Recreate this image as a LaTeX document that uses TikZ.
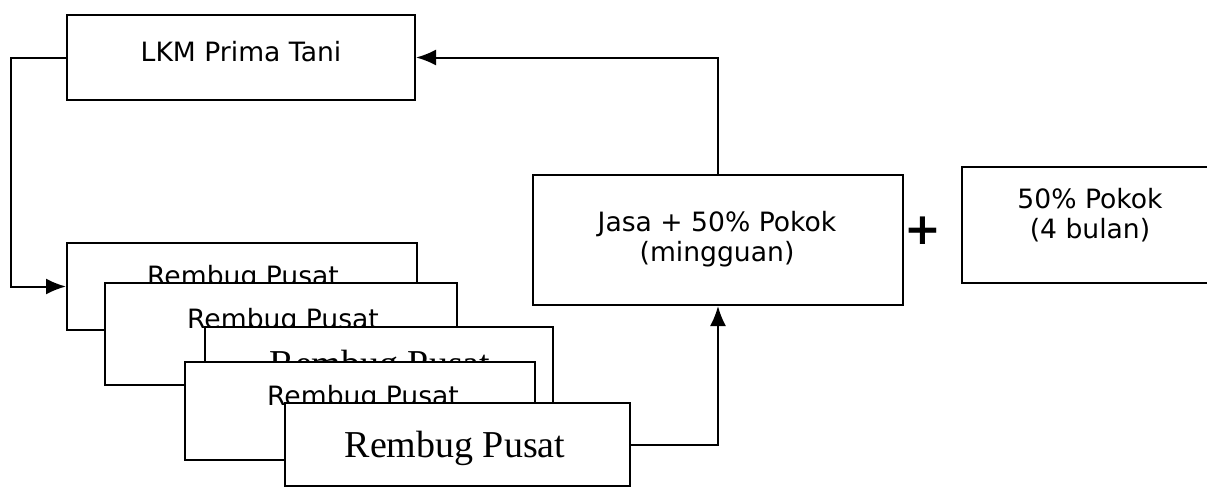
\documentclass[tikz,border=0pt]{standalone}
\usepackage{fontspec}
\setmainfont{DejaVu Sans}
\newfontfamily\serifteks{Liberation Serif}
\usetikzlibrary{arrows.meta}
\begin{document}
\begin{tikzpicture}[x=0.5pt,y=-0.5pt,
    kotak/.style={draw,fill=white,line width=1pt,inner sep=0pt},
    teks/.style={anchor=base,inner sep=0pt,font=\fontsize{13.3}{14.5}\selectfont},
    teksdua/.style={align=center,inner sep=0pt,font=\fontsize{13.3}{15}\selectfont},
    teksserif/.style={anchor=base,inner sep=0pt,font=\serifteks\fontsize{19}{22}\selectfont},
    panah/.style={-{Latex[length=10pt,width=8pt]},line width=1pt}]
    \useasboundingbox (0,0) rectangle (1207,488);

    % LKM Prima Tani
    \node[kotak,minimum width=174pt,minimum height=42.5pt] (lkm) at (241,57.5) {};
    \node[teks] (tlkm) at (241,61) {LKM Prima Tani};

    % Rembug Pusat (bertumpuk)
    \node[kotak,minimum width=175pt,minimum height=43.5pt] (r1) at (242,286.5) {};
    \node[teks] (t1) at (243,285) {Rembug Pusat};
    \node[kotak,minimum width=176pt,minimum height=51pt] (r2) at (281,334) {};
    \node[teks] (t2) at (283,328) {Rembug Pusat};
    \node[kotak,minimum width=174pt,minimum height=49pt] (r3) at (379,376) {};
    \node[teksserif] (t3) at (380,376) {Rembug Pusat};
    \node[kotak,minimum width=175pt,minimum height=49pt] (r4) at (360,411) {};
    \node[teks] (t4) at (363,405) {Rembug Pusat};
    \node[kotak,minimum width=172.5pt,minimum height=41.5pt] (r5) at (457.5,444.5) {};
    \node[teksserif] (t5) at (455,457) {Rembug Pusat};

    % Jasa + Pokok
    \node[kotak,minimum width=185pt,minimum height=65pt] (jasa) at (718,240) {};
    \node[teksdua] (tjasa) at (717,239) {Jasa + 50\% Pokok\\(mingguan)};
    \node[font=\fontsize{22}{24}\selectfont\bfseries] (plus) at (923,231) {+};
    \node[kotak,minimum width=126.5pt,minimum height=58pt] (pokok) at (1088.5,225) {};
    \node[teksdua] (tpokok) at (1090,215) {50\% Pokok\\(4 bulan)};

    % Alur
    \draw[panah] (lkm.west) -- ++(-55,0) |- (r1.west);
    \draw[panah] (r5.east) -| (jasa.south);
    \draw[panah] (jasa.north) |- (lkm.east);
\end{tikzpicture}
\end{document}
